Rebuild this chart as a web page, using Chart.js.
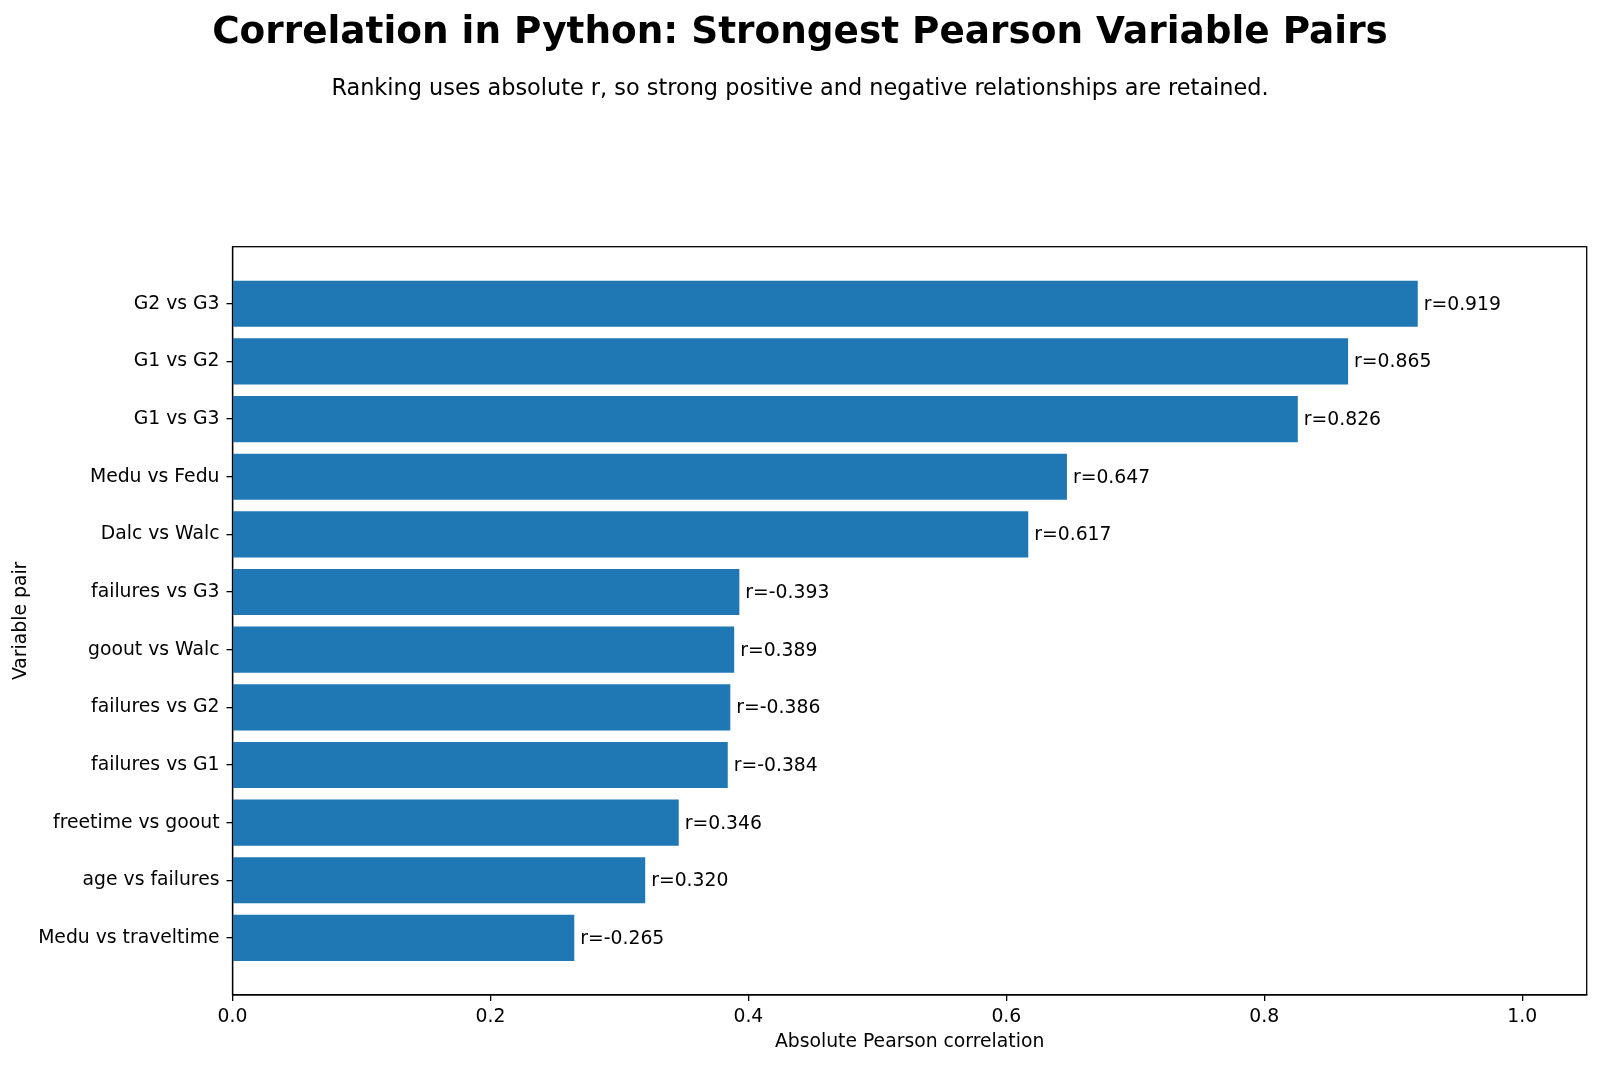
<!DOCTYPE html>
<html>
<head>
<meta charset="utf-8">
<script src="https://cdn.jsdelivr.net/npm/chart.js@4.4.1/dist/chart.umd.min.js"></script>
<style>
  html, body { margin: 0; padding: 0; background: #ffffff; }
  #wrap { width: 1600px; height: 1065px; position: relative; }
</style>
</head>
<body>
<div id="wrap"><canvas id="chart" width="1600" height="1065"></canvas></div>
<script>
// Pairs ranked by absolute r (top to bottom)
const categories = [
    'G2 vs G3', 'G1 vs G2', 'G1 vs G3', 'Medu vs Fedu', 'Dalc vs Walc',
    'failures vs G3', 'goout vs Walc', 'failures vs G2', 'failures vs G1',
    'freetime vs goout', 'age vs failures', 'Medu vs traveltime'
];
const rValues = [0.919, 0.865, 0.826, 0.647, 0.617, -0.393, 0.389, -0.386, -0.384, 0.346, 0.320, -0.265];
const xTicks = [0.0, 0.2, 0.4, 0.6, 0.8, 1.0];

const FONT = "'DejaVu Sans', 'Liberation Sans', sans-serif";
const FS = 18.8;
const BAR_COLOR = '#1f77b4';

// Draw the full axes frame (top + right sides too)
const framePlugin = {
    id: 'frame',
    afterDraw(chart) {
        const { ctx, chartArea: a } = chart;
        ctx.save();
        ctx.strokeStyle = '#000';
        ctx.lineWidth = 1.3;
        ctx.strokeRect(a.left, a.top, a.right - a.left, a.bottom - a.top);
        ctx.restore();
    }
};

// r=... labels at the end of each bar
const barLabelPlugin = {
    id: 'barLabels',
    afterDatasetsDraw(chart) {
        const { ctx } = chart;
        const meta = chart.getDatasetMeta(0);
        ctx.save();
        ctx.font = FS + 'px ' + FONT;
        ctx.fillStyle = '#000';
        ctx.textAlign = 'left';
        ctx.textBaseline = 'middle';
        meta.data.forEach((bar, i) => {
            ctx.fillText('r=' + rValues[i].toFixed(3), bar.x + 6, bar.y + 1);
        });
        ctx.restore();
    }
};

// Title and subtitle
const headerPlugin = {
    id: 'header',
    afterDraw(chart) {
        const { ctx } = chart;
        const cx = chart.width / 2;
        ctx.save();
        ctx.fillStyle = '#000';
        ctx.textAlign = 'center';
        ctx.textBaseline = 'middle';
        ctx.font = 'bold 37.4px ' + FONT;
        ctx.fillText('Correlation in Python: Strongest Pearson Variable Pairs', cx, 33);
        ctx.font = '22.4px ' + FONT;
        ctx.fillText('Ranking uses absolute r, so strong positive and negative relationships are retained.', cx, 89);
        ctx.restore();
    }
};

const chart = new Chart(document.getElementById('chart').getContext('2d'), {
    type: 'bar',
    data: {
        datasets: [{
            data: rValues.map((r, i) => ({ x: Math.abs(r), y: i })),
            backgroundColor: BAR_COLOR,
            borderWidth: 0,
            barPercentage: 0.8,
            categoryPercentage: 1.0
        }]
    },
    options: {
        indexAxis: 'y',
        responsive: false,
        animation: false,
        devicePixelRatio: 1,
        layout: { padding: { top: 246.7, right: 13.3, bottom: 0, left: 0 } },
        plugins: {
            legend: { display: false },
            tooltip: { enabled: false }
        },
        scales: {
            x: {
                type: 'linear',
                min: 0,
                max: 1.05,
                afterBuildTicks: (scale) => { scale.ticks = xTicks.map(v => ({ value: v })); },
                afterFit: (scale) => { scale.height = 70; },
                grid: {
                    drawOnChartArea: false,
                    drawTicks: true,
                    tickLength: 6,
                    color: '#000',
                    lineWidth: 1.3
                },
                border: { color: '#000', width: 1.3 },
                ticks: {
                    color: '#000',
                    font: { family: FONT, size: FS },
                    padding: 5,
                    maxRotation: 0,
                    autoSkip: false,
                    callback: (v) => Number(v).toFixed(1)
                },
                title: {
                    display: true,
                    text: 'Absolute Pearson correlation',
                    color: '#000',
                    font: { family: FONT, size: FS },
                    padding: { top: 0, bottom: 12 }
                }
            },
            y: {
                type: 'linear',
                reverse: true,
                offset: false,
                min: -0.99,
                max: 11.99,
                afterBuildTicks: (scale) => { scale.ticks = categories.map((c, i) => ({ value: i })); },
                afterFit: (scale) => { scale.width = 232.5; },
                grid: {
                    offset: false,
                    drawOnChartArea: false,
                    drawTicks: true,
                    tickLength: 6,
                    color: '#000',
                    lineWidth: 1.3
                },
                border: { color: '#000', width: 1.3 },
                ticks: {
                    color: '#000',
                    font: { family: FONT, size: FS },
                    padding: 7,
                    autoSkip: false,
                    callback: (v) => categories[v]
                },
                title: {
                    display: true,
                    text: 'Variable pair',
                    color: '#000',
                    font: { family: FONT, size: FS },
                    padding: { top: 9.4, bottom: 0 }
                }
            }
        }
    },
    plugins: [framePlugin, barLabelPlugin, headerPlugin]
});
</script>
</body>
</html>
